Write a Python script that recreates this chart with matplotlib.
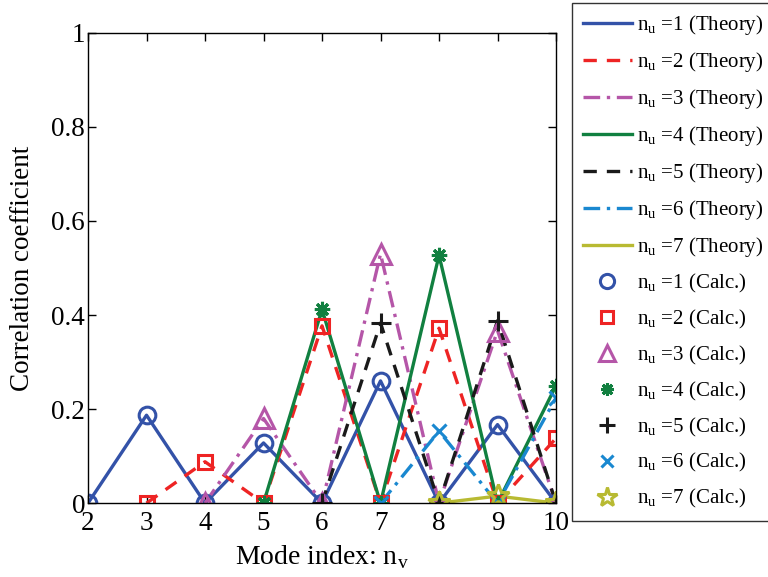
import matplotlib
matplotlib.use('Agg')
import matplotlib.pyplot as plt
from matplotlib.lines import Line2D

plt.rcParams['font.family'] = ['Liberation Serif', 'DejaVu Serif']
plt.rcParams['mathtext.fontset'] = 'custom'
plt.rcParams['mathtext.rm'] = 'Liberation Serif'

# n_v positions and correlation values for each n_u
nv1 = [2, 3, 4, 5, 6, 7, 8, 9, 10]
cc1 = [0, 0.187, 0, 0.128, 0, 0.26, 0, 0.167, 0]
nv2 = [3, 4, 5, 6, 7, 8, 9, 10]
cc2 = [0, 0.088, 0, 0.377, 0, 0.372, 0, 0.138]
nv3 = [4, 5, 6, 7, 8, 9, 10]
cc3 = [0, 0.18, 0, 0.53, 0, 0.367, 0]
nv4 = [5, 6, 7, 8, 9, 10]
cc4 = [0, 0.412, 0, 0.527, 0, 0.25]
nv5 = [6, 7, 8, 9, 10]
cc5 = [0, 0.383, 0, 0.388, 0]
nv6 = [7, 8, 9, 10]
cc6 = [0, 0.153, 0, 0.224]
nv7 = [8, 9, 10]
cc7 = [0, 0.015, 0]

series = [(nv1, cc1), (nv2, cc2), (nv3, cc3), (nv4, cc4), (nv5, cc5), (nv6, cc6), (nv7, cc7)]
colors = ['#3352a8', '#ee2424', '#b556a8', '#118040', '#1a1a1a', '#1a88d0', '#b8ba32']
styles = ['-', (0, (4, 3)), (0, (5, 2, 1, 2)), '-', (0, (4, 3)), (0, (5, 2, 1, 2)), '-']
markers = ['o', 's', '^', (8, 2, 0), '+', 'x', '*']
msizes = [12, 10, 14, 11, 14, 10, 17]

fig = plt.figure(figsize=(7.68, 5.77), dpi=100)
ax = fig.add_axes([0.1146, 0.128, 0.6094, 0.815])

lw = 2.4
handles = []
for i, (x, y) in enumerate(series):
    ax.plot(x, y, linestyle=styles[i], color=colors[i], linewidth=lw)
for i, (x, y) in enumerate(series):
    ax.plot(x, y, linestyle='none', marker=markers[i], markersize=msizes[i],
            markerfacecolor='none', markeredgecolor=colors[i], markeredgewidth=2.2)

for i in range(7):
    handles.append(Line2D([], [], linestyle=styles[i], color=colors[i], linewidth=lw,
                          label=r'n$_\mathrm{u}$ =%d (Theory)' % (i + 1)))
for i in range(7):
    handles.append(Line2D([], [], linestyle='none', marker=markers[i], markersize=msizes[i] * 0.85,
                          markerfacecolor='none', markeredgecolor=colors[i], markeredgewidth=2.2,
                          label=r'n$_\mathrm{u}$ =%d (Calc.)' % (i + 1)))

ax.set_xlim(2, 10)
ax.set_ylim(0, 1)
ax.set_xticks(range(2, 11))
ax.set_yticks([0, 0.2, 0.4, 0.6, 0.8, 1])
ax.set_yticklabels(['0', '0.2', '0.4', '0.6', '0.8', '1'])
ax.tick_params(direction='in', top=True, right=True, labelsize=19.5, length=6, width=1, pad=2)
ax.tick_params(axis='x', pad=6)
for s in ax.spines.values():
    s.set_linewidth(1)
ax.set_xlabel(r'Mode index: n$_\mathrm{v}$', fontsize=20, labelpad=5)
ax.set_ylabel('Correlation coefficient', fontsize=19.5, labelpad=12)

leg = fig.legend(handles=handles, loc='upper left', bbox_to_anchor=(0.745, 0.995),
                 borderaxespad=0, fontsize=15, frameon=True, fancybox=False,
                 edgecolor='black', handlelength=2.35, labelspacing=0.62,
                 borderpad=0.5, handletextpad=0.25)
leg.get_frame().set_linewidth(1)

fig.savefig('out.png', dpi=100)
